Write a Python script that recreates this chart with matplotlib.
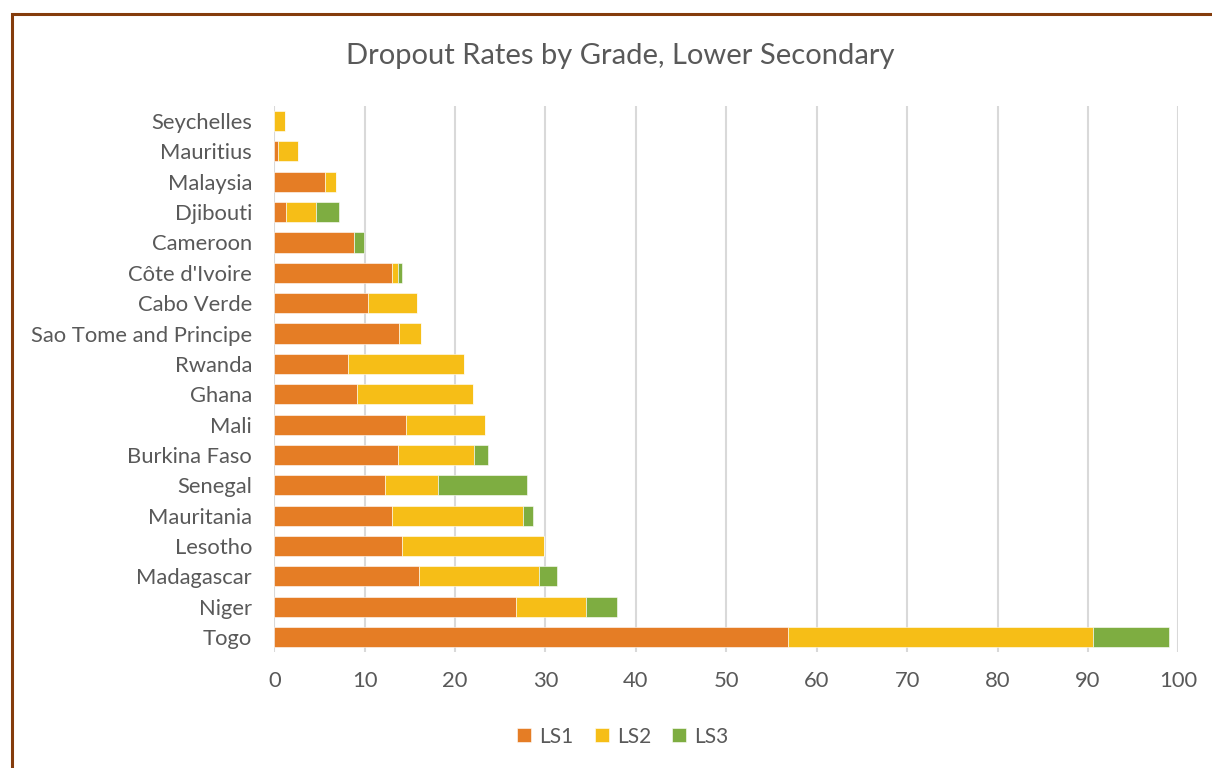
import numpy as np
import matplotlib.pyplot as plt
from matplotlib.patches import Rectangle

# Data (top to bottom as shown)
countries = ["Seychelles", "Mauritius", "Malaysia", "Djibouti", "Cameroon",
             "Côte d'Ivoire", "Cabo Verde", "Sao Tome and Principe", "Rwanda",
             "Ghana", "Mali", "Burkina Faso", "Senegal", "Mauritania",
             "Lesotho", "Madagascar", "Niger", "Togo"]
ls1 = [0.0, 0.4, 5.6, 1.3, 8.8, 13.0, 10.4, 13.8, 8.1, 9.1, 14.6, 13.7, 12.2,
       13.0, 14.1, 16.0, 26.7, 56.8]
ls2 = [1.2, 2.2, 1.2, 3.3, 0.0, 0.7, 5.4, 2.4, 12.9, 12.9, 8.7, 8.4, 5.9,
       14.5, 15.7, 13.3, 7.8, 33.8]
ls3 = [0.0, 0.0, 0.0, 2.6, 1.1, 0.4, 0.0, 0.0, 0.0, 0.0, 0.0, 1.5, 9.9,
       1.1, 0.0, 2.0, 3.4, 8.4]

series = ["LS1", "LS2", "LS3"]
colors = ["#E57D25", "#F6BE17", "#7EAD41"]
text_col = "#595959"

plt.rcParams['font.family'] = ['Lato', 'DejaVu Sans']

fig = plt.figure(figsize=(12.12, 7.68), dpi=100)
ax = fig.add_axes([0.2263, 0.151, 0.7459, 0.711])

y = np.arange(len(countries))
left = np.zeros(len(countries))
for name, vals, c in zip(series, [ls1, ls2, ls3], colors):
    vals = np.array(vals)
    ax.barh(y, vals, left=left, height=0.66, color=c, label=name,
            edgecolor="white", linewidth=0.4, zorder=3)
    left += vals

ax.set_ylim(-0.5, len(countries) - 0.5)
ax.invert_yaxis()
ax.set_xlim(0, 100)
ax.set_xticks(np.arange(0, 101, 10))
ax.set_yticks(y)
ax.set_yticklabels(countries)
ax.tick_params(axis="both", length=0, labelsize=15.8, colors=text_col)
ax.tick_params(axis="y", pad=16)
ax.tick_params(axis="x", pad=14)
ax.grid(axis="x", color="#D9D9D9", linewidth=1.5, zorder=0)
for s in ax.spines.values():
    s.set_visible(False)

fig.text(0.512, 0.927, "Dropout Rates by Grade, Lower Secondary",
         ha="center", va="center", fontsize=21, color=text_col)

fig.legend(loc="center", bbox_to_anchor=(0.514, 0.041), ncol=3, frameon=False,
           fontsize=15, labelcolor=text_col, handlelength=0.67, handleheight=0.67,
           handletextpad=0.4, columnspacing=1.0)

# chart border (brown frame, partly cropped)
fig.patches.append(Rectangle((12 / 1212, -0.05), 1.2, 0.05 + (768 - 14) / 768,
                             transform=fig.transFigure, fill=False,
                             edgecolor="#843C0C", linewidth=2.2))

fig.savefig("out.png", dpi=100)
